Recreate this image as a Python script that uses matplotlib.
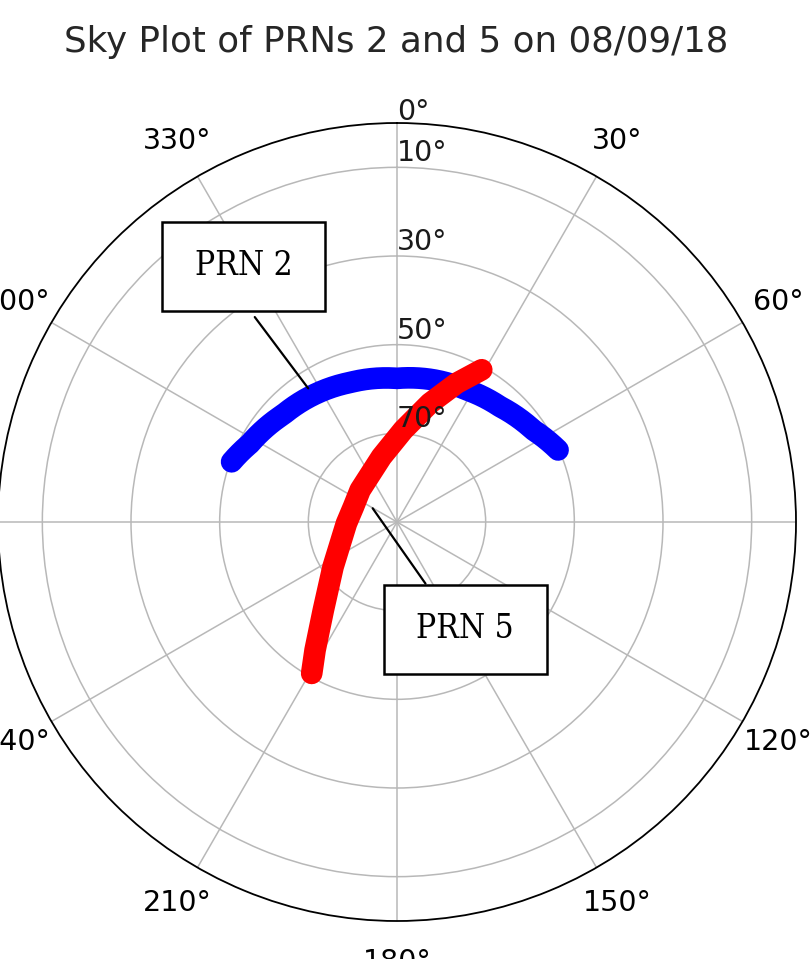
import numpy as np
import matplotlib
matplotlib.use("Agg")
import matplotlib.pyplot as plt
from matplotlib.path import Path

# ---- data ----
prn2_az = [-70.0, -62.0, -46.6, -32.0, -18.6, 0.0, 14.3, 27.8, 41.8, 56.0, 65.9]
prn2_el = [50.3, 52.4, 54.7, 55.8, 56.8, 57.6, 56.9, 56.3, 55.1, 52.9, 50.2]

prn5_az = [29.1, 23.3, 15.5, 3.9, -13.4, -49.1, -70.7, -91.5, -125.0, -140.1, -147.4, -150.6]
prn5_el = [50.7, 55.9, 62.2, 69.2, 74.9, 79.0, 79.6, 78.6, 72.4, 64.1, 55.7, 50.8]

theta_ticks = list(range(0, 360, 30))
theta_labels = ['', '30°', '60°', '90°', '120°', '150°', '180°',
                '210°', '240°', '270°', '300°', '330°']
r_grid = [20, 40, 60, 80]
r_label_pos = [20, 40, 60, 80, 90]
r_labels = ['70°', '50°', '30°', '10°', '0°']

title = 'Sky Plot of PRNs 2 and 5 on 08/09/18'

# annotation anchors (azimuth deg, elevation deg)
prn2_anno = (-33.6, 53.8)
prn5_anno = (-60.6, 83.7)

W, H = 810, 959
fig = plt.figure(figsize=(W / 100, H / 100), dpi=100)
cx, cy, R = 397, 522, 399
ax = fig.add_axes([(cx - R) / W, (H - cy - R) / H, 2 * R / W, 2 * R / H],
                  projection='polar')
ax.set_theta_zero_location('N')
ax.set_theta_direction(-1)
ax.set_rlim(0, 90)
ax.set_yticks(r_grid)
ax.set_yticklabels([])
ax.set_thetagrids(theta_ticks, theta_labels, fontsize=20.5)
ax.tick_params(axis='x', pad=19)
ax.grid(True, color='#b8b8b8', linewidth=1.1)
ax.spines['polar'].set_linewidth(1.3)

for r, lab in zip(r_label_pos, r_labels):
    dy = -2 if r == 90 else 0
    ax.annotate(lab, xy=(0, r), xytext=(0, dy), textcoords='offset points',
                ha='left', va='bottom', fontsize=20.5, color='#1a1a1a', zorder=6)

def rr(el):
    return [90 - e for e in el]

ln2, = ax.plot(np.deg2rad(prn2_az), rr(prn2_el), color='#0000ff', lw=15.6,
               solid_capstyle='round', solid_joinstyle='round', zorder=4)
ln2._path._interpolation_steps = 40  # follow polar arcs between readings
ax.plot(np.deg2rad(prn5_az), rr(prn5_el), color='#ff0000', lw=15.6,
        solid_capstyle='round', solid_joinstyle='round', zorder=4)


def make_box(padx, pady):
    def box(x0, y0, width, height, mutation_size):
        px = padx * mutation_size
        py = pady * mutation_size
        x0, y0 = x0 - px, y0 - py
        x1, y1 = x0 + width + 2 * px, y0 + height + 2 * py
        return Path([(x0, y0), (x1, y0), (x1, y1), (x0, y1), (x0, y0)], closed=True)
    return box

boxstyle = make_box(0.98, 0.86)
label_font = dict(family='DejaVu Serif', stretch='condensed', size=24)

ax.annotate('PRN 2', xy=(np.deg2rad(prn2_anno[0]), 90 - prn2_anno[1]),
            xytext=(243.5 / W, 1 - 266.5 / H), textcoords='figure fraction',
            ha='center', va='center', fontproperties=label_font,
            bbox=dict(boxstyle=boxstyle, fc='white', ec='black', lw=1.8),
            arrowprops=dict(arrowstyle='-', color='black', lw=1.6,
                            relpos=(0.35, 0.0), shrinkA=4.5, shrinkB=0),
            zorder=5)
ax.annotate('PRN 5', xy=(np.deg2rad(prn5_anno[0]), 90 - prn5_anno[1]),
            xytext=(465.3 / W, 1 - 629.2 / H), textcoords='figure fraction',
            ha='center', va='center', fontproperties=label_font,
            bbox=dict(boxstyle=boxstyle, fc='white', ec='black', lw=1.8),
            arrowprops=dict(arrowstyle='-', color='black', lw=1.6,
                            relpos=(0.305, 1.0), shrinkA=0, shrinkB=0),
            zorder=5)

fig.text(396.5 / W, 1 - 51.7 / H, title, ha='center', va='baseline',
         fontsize=25.7, color='#262626')

fig.savefig('out.png', dpi=100)
